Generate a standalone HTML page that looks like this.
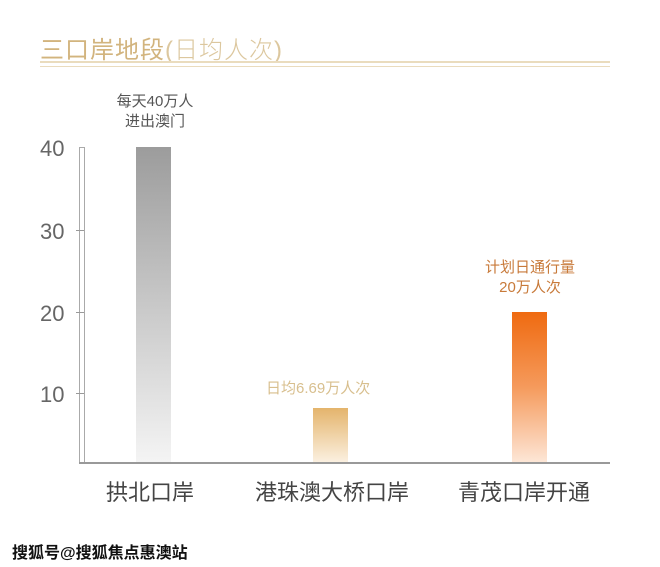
<!DOCTYPE html>
<html><head><meta charset="utf-8"><style>
body{margin:0;width:660px;height:567px;background:#fff;position:relative;overflow:hidden;font-family:"Liberation Sans","Noto Sans CJK SC",sans-serif;}
.a{position:absolute;white-space:nowrap}
.t{position:absolute;left:76px;width:8px;height:1px;background:#999}
</style></head><body>
<div class="a" style="left:40px;top:30px;font-size:24px;color:#d2b47e;letter-spacing:1px">三口岸地段<span style="font-weight:300;color:#dcc79e">(日均人次)</span></div>
<div class="a" style="left:40px;top:61px;width:570px;height:2px;background:#eadcbe"></div>
<div class="a" style="left:40px;top:66px;width:570px;height:1px;background:#eadcbe"></div>
<div class="a" style="left:110px;top:92px;font-size:15px;color:#555;text-align:center;width:90px;line-height:20px">每天40万人<br>进出澳门</div>
<div class="a" style="left:40px;top:136px;font-size:22px;color:#666">40</div>
<div class="a" style="left:40px;top:219px;font-size:22px;color:#666">30</div>
<div class="a" style="left:40px;top:301px;font-size:22px;color:#666">20</div>
<div class="a" style="left:40px;top:382px;font-size:22px;color:#666">10</div>
<div class="a" style="left:79px;top:147px;width:4px;height:316px;border:1px solid #aaa;border-bottom:none"></div>
<div class="t" style="top:230px"></div><div class="t" style="top:312px"></div><div class="t" style="top:393px"></div>
<div class="a" style="left:79px;top:462px;width:531px;height:2px;background:#999"></div>
<div class="a" style="left:136px;top:147px;width:35px;height:315px;background:linear-gradient(#9c9c9c,#f4f4f4)"></div>
<div class="a" style="left:313px;top:408px;width:35px;height:54px;background:linear-gradient(#e4b46c,#fbf0e0)"></div>
<div class="a" style="left:512px;top:312px;width:35px;height:150px;background:linear-gradient(#ef6a10,#f59a5c 50%,#fde6d6)"></div>
<div class="a" style="left:266px;top:377px;font-size:15px;color:#d8bf8e">日均6.69万人次</div>
<div class="a" style="left:470px;top:258px;width:120px;text-align:center;font-size:15px;color:#c87a3a;line-height:20px">计划日通行量<br>20万人次</div>
<div class="a" style="left:106px;top:475px;font-size:22px;color:#444">拱北口岸</div>
<div class="a" style="left:255px;top:475px;font-size:22px;color:#444">港珠澳大桥口岸</div>
<div class="a" style="left:458px;top:475px;font-size:22px;color:#444">青茂口岸开通</div>
<div class="a" style="left:12px;top:539px;font-size:16px;font-weight:bold;color:#111;text-shadow:0 0 2px #fff">搜狐号@搜狐焦点惠澳站</div>
</body></html>
